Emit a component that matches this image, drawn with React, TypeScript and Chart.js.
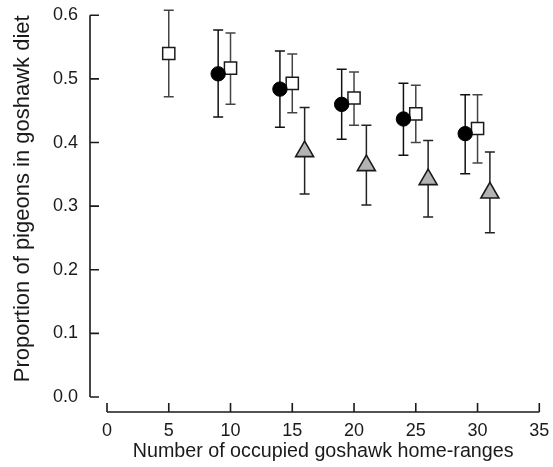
import React, { useEffect, useRef } from "react";
import { Chart, registerables } from "chart.js";

Chart.register(...registerables);

// ---- data ----
const xTickValues = [0, 5, 10, 15, 20, 25, 30, 35];
const yTickValues = [0, 0.1, 0.2, 0.3, 0.4, 0.5, 0.6];
const yTickLabels = ["0.0", "0.1", "0.2", "0.3", "0.4", "0.5", "0.6"];

const xTitle = "Number of occupied goshawk home-ranges";
const yTitle = "Proportion of pigeons in goshawk diet";

const squareX = [5, 10, 15, 20, 25, 30];
const squareY = [0.54, 0.517, 0.493, 0.47, 0.445, 0.422];
const squareLo = [0.472, 0.46, 0.447, 0.427, 0.4, 0.368];
const squareHi = [0.608, 0.572, 0.539, 0.511, 0.49, 0.475];

const circleX = [9, 14, 19, 24, 29];
const circleY = [0.508, 0.484, 0.46, 0.437, 0.414];
const circleLo = [0.44, 0.424, 0.405, 0.38, 0.351];
const circleHi = [0.577, 0.544, 0.515, 0.493, 0.475];

const triX = [16, 21, 26, 31];
const triY = [0.386, 0.364, 0.342, 0.321];
const triLo = [0.319, 0.302, 0.283, 0.258];
const triHi = [0.455, 0.427, 0.403, 0.385];

const FONT = "'Liberation Sans', Arial, Helvetica, sans-serif";

type Series = {
  xs: number[];
  ys: number[];
  lo: number[];
  hi: number[];
  barColor: string;
};

const errorSeries: Series[] = [
  { xs: triX, ys: triY, lo: triLo, hi: triHi, barColor: "#222" },
  { xs: circleX, ys: circleY, lo: circleLo, hi: circleHi, barColor: "#111" },
  { xs: squareX, ys: squareY, lo: squareLo, hi: squareHi, barColor: "#444" },
];

const errorBarPlugin = {
  id: "errorBars",
  beforeDatasetsDraw(chart: any) {
    const { ctx, scales } = chart;
    const xs = scales.x;
    const ys = scales.y;
    ctx.save();
    ctx.lineWidth = 1.5;
    const cap = 5;
    errorSeries.forEach((s) => {
      ctx.strokeStyle = s.barColor;
      s.xs.forEach((xv, i) => {
        const px = xs.getPixelForValue(xv);
        const pLo = ys.getPixelForValue(s.lo[i]);
        const pHi = ys.getPixelForValue(s.hi[i]);
        ctx.beginPath();
        ctx.moveTo(px, pLo);
        ctx.lineTo(px, pHi);
        ctx.moveTo(px - cap, pLo);
        ctx.lineTo(px + cap, pLo);
        ctx.moveTo(px - cap, pHi);
        ctx.lineTo(px + cap, pHi);
        ctx.stroke();
      });
    });
    ctx.restore();
  },
};

const spinePlugin = {
  id: "spines",
  afterDraw(chart: any) {
    const { ctx, scales, chartArea } = chart;
    const xs = scales.x;
    const ys = scales.y;
    const yAxisX = chartArea.left - 17;
    const xAxisY = chartArea.bottom + 15;
    const tickLen = 9;
    ctx.save();
    ctx.strokeStyle = "#1a1a1a";
    ctx.lineWidth = 1.6;
    // y spine
    const y0 = ys.getPixelForValue(yTickValues[0]);
    const y1 = ys.getPixelForValue(yTickValues[yTickValues.length - 1]);
    ctx.beginPath();
    ctx.moveTo(yAxisX, y0);
    ctx.lineTo(yAxisX, y1);
    yTickValues.forEach((v) => {
      const py = ys.getPixelForValue(v);
      ctx.moveTo(yAxisX, py);
      ctx.lineTo(yAxisX + tickLen, py);
    });
    ctx.stroke();
    // x spine
    const x0 = xs.getPixelForValue(xTickValues[0]);
    const x1 = xs.getPixelForValue(xTickValues[xTickValues.length - 1]);
    ctx.beginPath();
    ctx.moveTo(x0, xAxisY);
    ctx.lineTo(x1, xAxisY);
    xTickValues.forEach((v) => {
      const px = xs.getPixelForValue(v);
      ctx.moveTo(px, xAxisY);
      ctx.lineTo(px, xAxisY - tickLen);
    });
    ctx.stroke();
    ctx.restore();
  },
};

export default function App() {
  const canvasRef = useRef<HTMLCanvasElement | null>(null);

  useEffect(() => {
    if (!canvasRef.current) return;
    const toPts = (xs: number[], ys: number[]) => xs.map((x, i) => ({ x, y: ys[i] }));
    const chart = new Chart(canvasRef.current, {
      type: "scatter",
      data: {
        datasets: [
          {
            label: "triangles",
            data: toPts(triX, triY),
            pointStyle: "triangle",
            pointRadius: 10.4,
            pointBackgroundColor: "#b3b3b3",
            pointBorderColor: "#1a1a1a",
            pointBorderWidth: 1.6,
          },
          {
            label: "circles",
            data: toPts(circleX, circleY),
            pointStyle: "circle",
            pointRadius: 7.2,
            pointBackgroundColor: "#000",
            pointBorderColor: "#000",
            pointBorderWidth: 1,
          },
          {
            label: "squares",
            data: toPts(squareX, squareY),
            pointStyle: "rect",
            pointRadius: 8.6,
            pointBackgroundColor: "#fff",
            pointBorderColor: "#1a1a1a",
            pointBorderWidth: 1.5,
          },
        ],
      },
      options: {
        animation: false,
        responsive: false,
        events: [],
        layout: { padding: { top: 15.3, right: 13.7, left: 0, bottom: 0 } },
        plugins: {
          legend: { display: false },
          tooltip: { enabled: false },
        },
        scales: {
          x: {
            type: "linear",
            min: xTickValues[0],
            max: xTickValues[xTickValues.length - 1],
            afterBuildTicks: (s: any) => {
              s.ticks = xTickValues.map((v) => ({ value: v }));
            },
            afterFit: (s: any) => {
              s.height = 70;
              s.paddingLeft = 0;
              s.paddingRight = 0;
            },
            grid: { display: false, drawTicks: false },
            border: { display: false },
            ticks: {
              autoSkip: false,
              maxRotation: 0,
              padding: 23,
              color: "#1a1a1a",
              font: { family: FONT, size: 18 },
              callback: (v: any) => String(v),
            },
            title: {
              display: true,
              text: xTitle,
              color: "#1a1a1a",
              font: { family: FONT, size: 19.7 },
              padding: { top: 0, bottom: 4 },
            },
          },
          y: {
            type: "linear",
            min: yTickValues[0],
            max: yTickValues[yTickValues.length - 1],
            afterBuildTicks: (s: any) => {
              s.ticks = yTickValues.map((v) => ({ value: v }));
            },
            afterFit: (s: any) => {
              s.width = 107;
              s.paddingTop = 0;
              s.paddingBottom = 0;
            },
            grid: { display: false, drawTicks: false },
            border: { display: false },
            ticks: {
              autoSkip: false,
              padding: 29,
              color: "#1a1a1a",
              font: { family: FONT, size: 18 },
              callback: (v: any) => {
                const idx = yTickValues.findIndex((t) => Math.abs(t - v) < 1e-9);
                return idx >= 0 ? yTickLabels[idx] : "";
              },
            },
            title: {
              display: true,
              text: yTitle,
              align: "end",
              color: "#1a1a1a",
              font: { family: FONT, size: 22 },
              padding: { top: 10, bottom: 0 },
            },
          },
        },
      },
      plugins: [errorBarPlugin, spinePlugin],
    } as any);
    return () => chart.destroy();
  }, []);

  return (
    <div style={{ position: "absolute", left: 0, top: 0, width: 553, height: 467, background: "#fff" }}>
      <canvas ref={canvasRef} width={553} height={467} style={{ display: "block" }} />
    </div>
  );
}
